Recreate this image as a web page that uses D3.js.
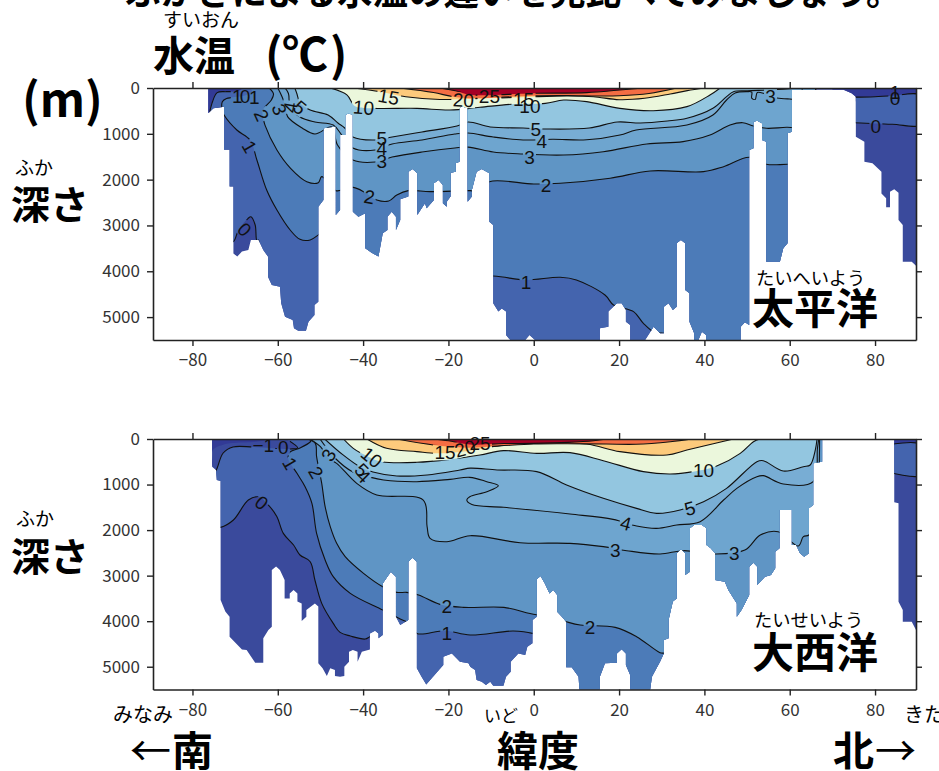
<!DOCTYPE html>
<html>
<head>
<meta charset="utf-8">
<script src="https://cdn.jsdelivr.net/npm/d3@7"></script>
<style>
  html, body { margin: 0; padding: 0; background: #fff; overflow: hidden; }
  svg { display: block; }
  text { font-family: "Noto Sans CJK JP", "Noto Sans", sans-serif; }
</style>
</head>
<body>
<svg id="chart" width="939" height="771"></svg>
<script>
const latTicks = [-80, -60, -40, -20, 0, 20, 40, 60, 80]
const depthTicks = [0, 1000, 2000, 3000, 4000, 5000]

const levelColors = new Map([
  [-2, '#323a96'],
  [0, '#4464ae'],
  [1, '#4c7bb8'],
  [2, '#5f95c5'],
  [3, '#6ea5cf'],
  [4, '#78add4'],
  [5, '#93c6e0'],
  [10, '#ebf7dc'],
  [15, '#fdca7c'],
  [20, '#f46d43'],
  [25, '#a50026'],
])
const deepColor = '#3a4a9c'

// sea floor, [lat, depth]
const pacificFloor = [
  [-76.3,550],[-75.1,440],[-72.6,410],[-72.6,1350],[-71.3,1350],[-71.3,2150],[-70.4,2150],[-70.4,3610],
  [-69.5,3680],[-68.4,3570],[-66.9,3535],[-66.3,3317],[-64.5,3317],[-63.4,3535],[-62.3,3680],[-62.3,4118],
  [-61.4,4300],[-59.5,4336],[-59.2,4700],[-58.3,4990],[-56.5,5063],[-56.2,5245],[-55.2,5296],[-53.4,5296],
  [-52.8,5100],[-51.4,4954],[-51.4,4736],[-50.5,4663],[-50.5,2590],[-49.3,2444],[-49.3,880],[-46.4,840],
  [-46.4,2770],[-45.4,2660],[-45.4,1025],[-44.2,1025],[-44.2,590],[-43.4,550],[-42.4,590],[-42.4,2700],
  [-41.1,2810],[-39.5,2735],[-39.5,3500],[-38,3594],[-36.4,3680],[-35.4,3170],[-34.3,3100],[-34.3,2810],
  [-33.3,2700],[-32.3,2810],[-32.3,3100],[-31.3,2880],[-31.3,2430],[-29.4,2370],[-29.4,1826],[-28.4,1768],
  [-27.3,1862],[-27.3,2770],[-25.5,2517],[-25.1,2626],[-23.4,2444],[-23.4,2080],[-22.3,2008],[-21.3,2117],
  [-21.3,2517],[-20.4,2590],[-20.4,2480],[-19.5,2370],[-19.5,1848],[-18.3,1826],[-18.3,1644],[-17.4,1608],
  [-17.4,444],[-17,400],[-15.5,444],[-15.5,2480],[-14.5,2370],[-14.5,2226],[-13.4,1826],[-12.2,1768],
  [-10.4,1862],[-10.4,2917],[-9.5,2990],[-9.5,4700],[-8.3,4880],[-7.5,4810],[-6.5,4880],[-6.5,5390],
  [-5.5,5500],[-2,5500],[-1,5390],[0.3,5500],[15.5,5500],[15.5,5245],[17.5,5210],[17.5,4880],[19.5,4700],
  [20.6,4700],[21.6,4845],[21.6,5100],[22.6,5172],[22.6,5500],[26.1,5500],[28.1,5210],[29.6,5354],
  [30.5,5354],[30.5,4772],[31.6,4700],[32.6,4845],[33.5,4772],[33.5,3390],[34.5,3317],[35.5,3390],
  [35.5,4408],[36.5,4480],[36.5,5100],[37.6,5354],[37.6,5500],[38.6,5500],[39.4,5318],[40.4,5390],
  [40.4,5500],[48.5,5500],[48.5,5210],[49.5,5114],[50.5,5172],[50.5,1353],[51.5,1317],[51.5,735],
  [52.4,713],[53.5,771],[53.5,1135],[54.5,1171],[54.5,3790],[57.7,3790],[58.5,3500],[59.5,3390],
  [59.5,990],[60.5,953],[60.5,40],[72.6,40],[74.5,116],[75.5,190],[75.5,1062],[77.5,1171],[77.5,1608],
  [79.4,1644],[81.5,1826],[81.5,2300],[82.6,2408],[82.6,2604],[83.5,2604],[83.5,2262],[84.5,2211],
  [85.5,2284],[85.5,2880],[86.5,2990],[86.5,3790],[88.6,3790],[89.6,3877],
]

const atlanticFloor = [
  [-75.4,608],[-74.5,680],[-74.3,900],[-73.4,920],[-73.4,3535],[-72.3,3790],[-71.3,3900],[-71.3,4340],
  [-68.4,4620],[-67.3,4633],[-65.3,4910],[-63.4,4910],[-63.4,4377],[-62.2,4194],[-61.4,4120],[-61.4,2877],
  [-60.4,2800],[-59.5,2877],[-58.4,3096],[-58.4,3500],[-57.2,3500],[-57.2,3390],[-56.3,3316],[-55.4,3390],
  [-55.4,3570],[-54.4,3610],[-54.4,3997],[-53.3,3900],[-53.3,3755],[-51.3,3610],[-50.5,3680],[-50.5,4926],
  [-49.5,5036],[-48.5,5205],[-47.7,5036],[-46.6,5073],[-46.6,5205],[-45.4,5220],[-44.4,5205],[-44.4,5000],
  [-43.3,4890],[-43.3,4670],[-42.4,4633],[-41.3,4670],[-41.3,4890],[-40.3,4670],[-38.4,4620],[-38.4,4268],
  [-37.2,4209],[-36.4,4268],[-36.4,4377],[-35.4,4304],[-35.4,3170],[-33.5,2913],[-32.3,3023],[-32.3,3900],
  [-31.3,4085],[-29.4,3975],[-29.4,2694],[-28.4,2606],[-27.4,2694],[-27.4,5036],[-26.3,5220],[-25.2,5388],
  [-21.2,4963],[-21.2,4780],[-19.2,4707],[-17.3,4890],[-15.3,4926],[-14.9,5000],[-13.75,5073],[-13.4,5292],
  [-12.2,5329],[-11.2,5402],[-10.2,5329],[-9.5,5417],[-7.1,5417],[-6.5,5219],[-5.4,5110],[-5.4,4890],
  [-3.6,4707],[-2,4743],[-1.5,4560],[-0.3,4487],[-0.3,3975],[0.7,3900],[0.7,3082],[1.6,3008],[2.6,3170],
  [3.7,3390],[4.6,3316],[5.5,3426],[5.5,3792],[6.6,3900],[7.6,4011],[7.6,5014],[8.9,5014],[10.5,5219],
  [10.7,5500],[15.5,5500],[15.5,5219],[16.7,4926],[19.5,4912],[19.5,4707],[20.6,4619],[21.6,4707],
  [21.6,4963],[22.6,5182],[22.6,5500],[27.3,5500],[27.7,5219],[29.6,4890],[30.5,4707],[30.5,4414],
  [31.6,4377],[31.6,3975],[32.6,3570],[33.5,3500],[33.5,2510],[34.5,2423],[35.5,2510],[35.5,2987],
  [36.6,2913],[36.6,1962],[37.6,1890],[39.4,1890],[40.5,1962],[40.5,2328],[41.5,2400],[42.5,2510],
  [42.5,3096],[44.8,3133],[45.6,3316],[46.6,3462],[47.6,3610],[47.6,3900],[48.7,3755],[49.5,3610],
  [50.5,3426],[50.5,2804],[51.5,2716],[52.4,2804],[52.4,3206],[54.2,3023],[55.6,2987],[56.6,2840],
  [56.6,2474],[57.6,2400],[57.6,1559],[60.5,1559],[60.5,2328],[61.5,2328],[62.4,2510],[63.4,2584],
  [64.5,2510],[64.5,1523],[65.5,1450],[65.5,534],[67.6,498],[67.6,0],[84.5,0],[84.5,1390],[85.5,1413],
  [85.5,3572],[86.5,3755],[86.5,4011],[88.6,4011],[89.6,4195],
]

// isotherms, [lat, depth]; the warmer water lies inside each ring
const pacificColdS = [[-78,0],[-78,700],[-60,700],[-60,0]]
const pacificColdN = [[70,0],[91,0],[91,250],[70,250]]
const pacificIso0S = [[-68,0],[-69.5,70],[-72,80],[-74.2,100],[-75.3,300],[-76,600],[-71.5,3350],[-70.4,3353],[-69.2,3100],[-67,2850],[-66.3,2810],[-65.3,2990],[-64.9,3330],[-64.5,3320],[-64.5,5500],[66,5500],[66,0]]
const pacificIso0N = [[70,200],[75,200],[80,190],[84,170],[91,170],[91,790],[84,790],[75,760],[70,760]]
const pacificIso1 = [[-66.5,0],[-66,80],[-68,170],[-72,230],[-73,300],[-73,500],[-72.6,590],[-69.6,917],[-66.5,1135],[-64.9,1571],[-62.6,2226],[-60.2,2663],[-57.1,3099],[-54.8,3303],[-52.4,3317],[-50.4,3200],[-49.5,3150],[-49,3300],[-30,4100],[-9.5,4103],[-2,4190],[6.2,4132],[10,4190],[16.7,4518],[18.7,4736],[23.4,4881],[25.7,5136],[28.4,5340],[30.5,5354],[31.5,5400],[33,5500],[66,5500],[66,0]]
const pacificIso2 = [[-62,0],[-61,130],[-61.5,260],[-63.5,480],[-63.5,620],[-63,810],[-60.2,1353],[-57,1753],[-53.2,2044],[-50.5,2066],[-49.7,1935],[-46.4,2240],[-42.3,2168],[-39.5,2284],[-36.8,2444],[-34,2466],[-32.1,2335],[-29.4,2240],[-24.3,2262],[-14.9,2240],[-13,2250],[-10.4,2044],[0,2095],[6.2,2080],[17.9,1970],[27.3,1810],[39.8,1826],[44.5,1717],[50.5,1513],[54.5,1665],[59.5,1665],[66,1665],[66,0]]
const pacificIso3 = [[-60,0],[-59,190],[-58.2,400],[-57.7,625],[-54.3,873],[-51.3,1004],[-47.3,851],[-46,1245],[-42.4,1572],[-37.2,1616],[-33.2,1507],[-26.2,1397],[-18.5,1310],[-15.4,1290],[-9.5,1397],[-3,1440],[7,1462],[16.3,1390],[26.5,1222],[35,1171],[41.3,1026],[46,808],[49,757],[51.5,830],[54.6,880],[59.3,858],[66,860],[66,0]]
const pacificIso4 = [[-58.3,0],[-57.5,120],[-57.1,415],[-54.8,633],[-51.3,742],[-47,808],[-45,1026],[-42.4,1310],[-37.2,1354],[-33.2,1223],[-26.2,1135],[-18.5,1004],[-15.4,983],[-9.5,1070],[-2.5,1135],[4.5,1120],[12.4,1130],[20.2,1026],[24,917],[35.9,808],[42,590],[45.2,262],[47.2,110],[50,80],[51.1,90],[51.1,220],[51.9,250],[52.4,100],[54,120],[57,218],[60,240],[62,240],[63,0]]
const pacificIso5 = [[-56,0],[-55.5,130],[-54.8,330],[-52.4,480],[-48.2,590],[-45.9,764],[-44.3,873],[-42.4,1070],[-37.2,1135],[-33.2,1070],[-26.2,960],[-18,830],[-15.4,742],[-10.2,851],[-2.5,873],[3,895],[13,873],[19.6,742],[25,764],[31.3,720],[35.9,662],[42,444],[45.2,189],[46.8,80],[50,60],[56,40],[62,0]]
const pacificIso10 = [[-47.7,0],[-43.8,150],[-41.9,400],[-37.6,444],[-27.4,444],[-19.6,480],[-12.6,420],[-4.4,350],[2.7,335],[7,262],[12.4,298],[20.2,444],[28,495],[35.9,407],[41.3,153],[43.7,0]]
const pacificIso15 = [[-42.3,0],[-36,80],[-30,190],[-22,250],[-14,235],[-6,210],[0,190],[8,175],[14,190],[20,255],[26,225],[32,130],[36,58],[40,0]]
const pacificIso20 = [[-31.3,0],[-23.5,100],[-18.8,190],[-14,225],[-8,205],[0,170],[8,165],[15,175],[20,170],[27,120],[33.5,0]]
const pacificIso25 = [[-22,0],[-18,70],[-14.9,150],[-6,140],[0,116],[12.4,100],[20.2,44],[25.7,0]]

const atlanticColdS = [[-77,0],[-77,700],[-75.4,600],[-75.2,241],[-73,130],[-70.7,90],[-65.8,66],[-62.3,22],[-61,0]]
const atlanticColdN = [[83,0],[91,0],[91,130],[83,130]]
const atlanticIso0S = [[-58,0],[-55.3,197],[-57.1,219],[-65.8,175],[-70.5,175],[-72.8,307],[-74.2,636],[-75,800],[-75,1940],[-73.4,1940],[-70.4,1779],[-66.9,1340],[-64.5,1270],[-62.2,1450],[-60.2,1706],[-58.7,2072],[-56.3,2328],[-54.8,2547],[-52.4,2694],[-51.3,3096],[-49.7,3609],[-47,4048],[-45.4,4246],[-43,4326],[-39.5,4392],[-38.4,4340],[-37,4300],[-36,5500],[68,5500],[68,0]]
const atlanticIso0N = [[83,132],[91,132],[91,790],[83,720]]
const atlanticIso1 = [[-52,0],[-52.4,66],[-54.8,197],[-57.1,285],[-57.6,417],[-55.5,754],[-53.6,1047],[-52,1413],[-50.9,2072],[-48.9,2657],[-47,3023],[-43,3389],[-35.4,3755],[-31.3,3953],[-29,4050],[-27.4,4268],[-20.8,4209],[-14.9,4304],[-4.8,4216],[-0.3,4268],[0.5,4300],[2,5500],[68,5500],[68,0]]
const atlanticIso2 = [[-53,0],[-51.2,95],[-50.9,388],[-49.7,974],[-48.9,1486],[-47.7,1925],[-46.2,2291],[-44.2,2584],[-39.9,2950],[-35.4,3243],[-32.1,3367],[-29.8,3367],[-27,3426],[-22,3631],[-16.5,3697],[-7,3697],[-0.9,3830],[3,3900],[7,3997],[10.9,4085],[19.1,4136],[24.1,4340],[29.6,4692],[31,4720],[33,5500],[68,5500],[68,0]]
const atlanticIso3 = [[-52.5,0],[-50,168],[-48.1,425],[-46.2,534],[-41.5,974],[-36.8,1230],[-25.9,1340],[-25,1925],[-24.3,2181],[-20.4,2255],[-14.9,2123],[-3.2,2277],[8.5,2291],[16.3,2364],[21.8,2452],[29.6,2525],[35.1,2452],[42.5,2525],[49.5,2438],[53.1,2108],[57.3,2035],[62,2350],[63.2,2145],[64.5,2108],[66,1800],[67,0]]
const atlanticIso4 = [[-50.1,0],[-46.6,417],[-42.4,724],[-38.8,827],[-35.2,900],[-27.4,937],[-19.6,886],[-15,842],[-11,937],[-8.3,1025],[-11,1157],[-15,1266],[-15.7,1340],[-14.5,1440],[-7.1,1500],[8.5,1647],[18.6,1764],[24.1,1910],[28.8,1962],[33.5,1889],[39,1815],[44.5,1340],[47.6,1083],[52.3,827],[53.8,805],[58.5,988],[65.5,937],[66.5,200],[66.8,0]]
const atlanticIso5 = [[-49,0],[-44.7,350],[-40.7,614],[-37.7,724],[-32.1,811],[-25,789],[-17.3,680],[-14.9,640],[-8.6,680],[0.7,717],[7.7,1010],[16.3,1303],[24.1,1523],[28.8,1632],[34.3,1559],[39.8,1376],[45.2,1083],[52.3,498],[53.8,476],[58.5,703],[63.2,608],[64.8,571],[66,240],[66.4,0]]
const atlanticIso10 = [[-44.6,0],[-42.3,205],[-38.8,388],[-35.6,498],[-27.4,512],[-19.6,446],[-12.6,351],[-7.1,256],[0.7,315],[8.5,300],[16.3,476],[25.7,717],[32,769],[37.4,717],[42.9,593],[48.4,315],[51.5,59],[53,0]]
const atlanticIso15 = [[-39.1,0],[-34.5,205],[-27.4,278],[-22.7,315],[-15,256],[-8.7,154],[0.7,80],[12.4,110],[20.2,278],[31.2,351],[35.9,242],[46.8,0]]
const atlanticIso20 = [[-32.1,0],[-23.5,132],[-15.7,190],[-8,150],[0,110],[8,105],[17,110],[24,115],[32,60],[37,0]]
const atlanticIso25 = [[-23.5,0],[-20,40],[-15,120],[-7,100],[0,95],[8,75],[14,40],[17.1,0]]

const pacificRings = [
  [0, pacificIso0S], [0, pacificIso0N], [1, pacificIso1], [2, pacificIso2], [3, pacificIso3], [4, pacificIso4],
  [5, pacificIso5], [10, pacificIso10], [15, pacificIso15], [20, pacificIso20], [25, pacificIso25],
]
const atlanticRings = [
  [0, atlanticIso0S], [0, atlanticIso0N], [1, atlanticIso1], [2, atlanticIso2], [3, atlanticIso3], [4, atlanticIso4],
  [5, atlanticIso5], [10, atlanticIso10], [15, atlanticIso15], [20, atlanticIso20], [25, atlanticIso25],
]

// contour labels: text, lat, depth, angle
const pacificLabels = [
  ['1',-69.5,175,0],['0',-67.7,175,0],['1',-65.5,190,0],['2',-63.8,590,65],['3',-59.6,466,70],['4',-57.1,422,-80],
  ['5',-54.8,422,40],['1',-66.6,1280,60],['0',-67.8,3085,45],['10',-39.9,422,5],['15',-34,190,10],['20',-16.5,262,3],
  ['25',-10.4,175,0],['15',-2.4,240,0],['10',-0.9,407,0],['5',-35.6,1084,0],['4',-35.6,1317,0],['3',-35.6,1586,0],
  ['5',0.5,902,0],['4',1.9,1171,0],['3',-1,1499,0],['2',2.9,2117,0],['1',-1.8,4227,0],['2',-38.5,2372,10],
  ['3',55.5,175,0],['0',84.7,225,0],['1',84.7,100,0],['0',80.2,830,0],
]
const atlanticLabels = [
  ['−1',-63.4,132,0],['0',-58.7,183,0],['1',-57.1,534,60],['2',-51,732,60],['3',-48.1,351,-60],['10',-38,403,40],
  ['5',-40.3,680,45],['4',-39.9,813,45],['0',-63.8,1398,40],['15',-20.8,293,0],['20',-16.1,205,-15],['25',-12.6,95,0],
  ['2',-20.4,3667,0],['1',-20.4,4253,0],['10',39.8,680,0],['5',36.6,1523,-15],['4',21.6,1852,15],['3',19.1,2438,0],
  ['3',47,2496,0],['2',13.2,4136,0],
]

const svg = d3.select('#chart')
const xDomain = [-89.25, 89.6]
const xRange = [153, 916]

const drawPanel = ({id, top, bottom, floor, cold, rings, labels}) => {
  const x = d3.scaleLinear().domain(xDomain).range(xRange)
  const y = d3.scaleLinear().domain([0, 5500]).range([top, bottom])

  const oceanShape = d3.area().x(d => x(d[0])).y0(y(0)).y1(d => y(d[1]))
  const ring = d3.line().x(d => x(d[0])).y(d => y(d[1])).curve(d3.curveCatmullRom.alpha(0.5))

  const defs = svg.append('defs')
  defs.append('clipPath').attr('id', `ocean-${id}`).append('path').attr('d', oceanShape(floor))

  const mask = defs.append('mask')
    .attr('id', `gaps-${id}`)
    .attr('maskUnits', 'userSpaceOnUse')
    .attr('x', 0).attr('y', 0).attr('width', 939).attr('height', 771)
  mask.append('rect').attr('width', 939).attr('height', 771).attr('fill', '#fff')
  mask.selectAll('rect.gap')
    .data(labels)
    .join('rect')
    .attr('class', 'gap')
    .attr('x', d => -d[0].length * 5.5 - 1)
    .attr('y', -8)
    .attr('width', d => d[0].length * 11 + 2)
    .attr('height', 16)
    .attr('fill', '#000')
    .attr('transform', d => `translate(${x(d[1])},${y(d[2])}) rotate(${d[3]})`)

  const sea = svg.append('g').attr('clip-path', `url(#ocean-${id})`)
  sea.append('rect')
    .attr('x', xRange[0]).attr('y', top)
    .attr('width', xRange[1] - xRange[0]).attr('height', bottom - top)
    .attr('fill', deepColor)
  cold.forEach(c => sea.append('path').attr('d', `${ring(c)}Z`).attr('fill', levelColors.get(-2)))

  rings.forEach(([level, pts]) => {
    const d = `${ring(pts)}Z`
    sea.append('path').attr('d', d).attr('fill', levelColors.get(level))
    sea.append('path')
      .attr('d', d)
      .attr('fill', 'none')
      .attr('stroke', '#111')
      .attr('stroke-width', 1.1)
      .attr('mask', `url(#gaps-${id})`)
  })

  svg.append('g')
    .selectAll('text')
    .data(labels)
    .join('text')
    .attr('transform', d => `translate(${x(d[1])},${y(d[2])}) rotate(${d[3]})`)
    .attr('text-anchor', 'middle')
    .attr('dy', '0.36em')
    .attr('fill', '#111')
    .style('font-family', '"Liberation Sans", sans-serif')
    .style('font-size', '19px')
    .text(d => d[0])

  const styleAxis = g => {
    g.selectAll('.domain').attr('stroke', '#222').attr('stroke-width', 1.6)
    g.selectAll('.tick line').attr('stroke', '#222').attr('stroke-width', 1.4)
    g.selectAll('.tick text').attr('fill', '#333').style('font-size', '17px')
      .style('font-family', '"Noto Sans CJK JP", sans-serif')
  }
  const frame = svg.append('g')
  frame.append('g').attr('transform', `translate(0,${bottom})`)
    .call(d3.axisBottom(x).tickValues(latTicks).tickSize(6).tickPadding(8).tickSizeOuter(0)
      .tickFormat(d => String(d).replace('-', '−')))
    .call(styleAxis)
  frame.append('g').attr('transform', `translate(0,${top})`)
    .call(d3.axisTop(x).tickValues(latTicks).tickSize(6).tickSizeOuter(0).tickFormat(''))
    .call(styleAxis)
  frame.append('g').attr('transform', `translate(${xRange[0]},0)`)
    .call(d3.axisLeft(y).tickValues(depthTicks).tickSize(6).tickPadding(7).tickSizeOuter(0).tickFormat(d => String(d)))
    .call(styleAxis)
  frame.append('g').attr('transform', `translate(${xRange[1]},0)`)
    .call(d3.axisRight(y).tickValues(depthTicks).tickSize(6).tickSizeOuter(0).tickFormat(''))
    .call(styleAxis)
}

drawPanel({id: 'pacific', top: 88, bottom: 340, floor: pacificFloor, cold: [pacificColdS, pacificColdN], rings: pacificRings, labels: pacificLabels})
drawPanel({id: 'atlantic', top: 439, bottom: 689.5, floor: atlanticFloor, cold: [atlanticColdS, atlanticColdN], rings: atlanticRings, labels: atlanticLabels})

const caption = (text, x, y, size, bold) => {
  svg.append('text')
    .attr('x', x)
    .attr('y', y)
    .attr('fill', '#000')
    .style('font-size', `${size}px`)
    .style('font-weight', bold ? 700 : 400)
    .text(text)
}

caption('ふかさによる水温の違いを見比べてみましょう。', 125, 5, 35.5, true)
caption('すいおん', 163, 27, 19, false)
caption('水温', 153, 71, 41, true)
caption('(', 265, 72, 46, true)
caption('℃', 282, 71, 46, true)
caption(')', 330, 72, 46, true)
caption('(m)', 22, 117, 47, true)
caption('ふか', 15, 175, 19, false)
caption('深さ', 11, 219, 39, true)
caption('ふか', 16, 526, 19, false)
caption('深さ', 11, 571, 39, true)
caption('たいへいよう', 756, 285, 18.3, false)
caption('太平洋', 752, 324, 42, true)
caption('たいせいよう', 754, 627, 18.3, false)
caption('大西洋', 752, 668, 42, true)
caption('みなみ', 113, 722, 20, false)
caption('←', 130, 766, 41, false)
caption('南', 172, 766, 41, true)
caption('いど', 484, 722, 17, false)
caption('緯度', 497, 766, 41, true)
caption('きた', 904, 722, 20, false)
caption('北', 833, 766, 41, true)
caption('→', 875, 766, 41, false)
</script>
</body>
</html>
